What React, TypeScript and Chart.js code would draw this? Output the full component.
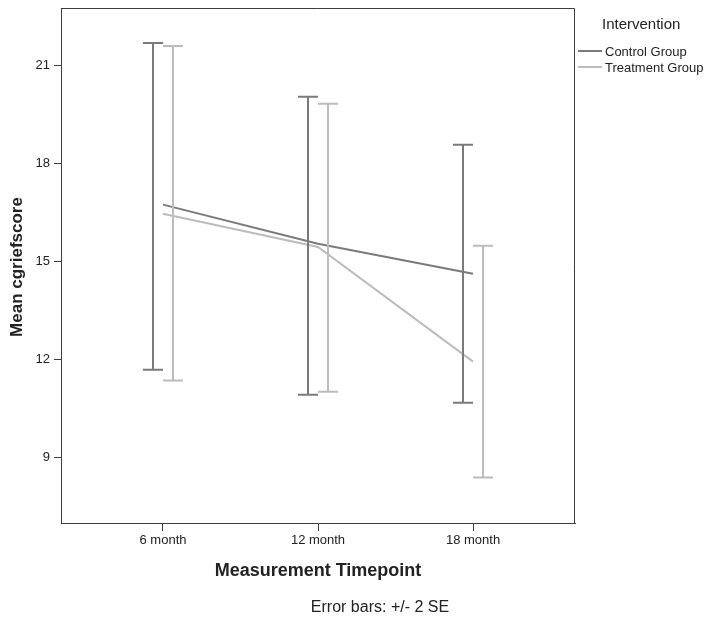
import React, { useEffect, useRef } from "react";
import { Chart, registerables } from "chart.js";

Chart.register(...registerables);

const categories = ["6 month", "12 month", "18 month"];
const seriesNames = ["Control Group", "Treatment Group"];
const controlMean = [16.75, 15.55, 14.63];
const controlLower = [11.69, 10.93, 10.68];
const controlUpper = [21.7, 20.05, 18.58];
const treatmentMean = [16.47, 15.45, 11.94];
const treatmentLower = [11.36, 11.02, 8.39];
const treatmentUpper = [21.61, 19.84, 15.49];
const yTicks = [9, 12, 15, 18, 21];
const legendTitle = "Intervention";
const xTitle = "Measurement Timepoint";
const yTitle = "Mean cgriefscore";
const footnote = "Error bars: +/- 2 SE";

const FONT = "Arial, 'Liberation Sans', sans-serif";
const CONTROL_COLOR = "#7a7a7a";
const TREATMENT_COLOR = "#bcbcbc";
const AXIS_COLOR = "#3c3c3c";
const TEXT_COLOR = "#222222";

export default function App() {
  const ref = useRef<HTMLCanvasElement | null>(null);

  useEffect(() => {
    if (!ref.current) return;

    const errorBars = [
      { lower: controlLower, upper: controlUpper, color: CONTROL_COLOR, offset: -10 },
      { lower: treatmentLower, upper: treatmentUpper, color: TREATMENT_COLOR, offset: 10 },
    ];

    const decorPlugin = {
      id: "decor",
      afterDatasetsDraw(chart: any) {
        const ctx = chart.ctx;
        const xs = chart.scales.x;
        const ys = chart.scales.y;
        ctx.save();
        errorBars.forEach((eb) => {
          ctx.strokeStyle = eb.color;
          ctx.lineWidth = 2;
          eb.lower.forEach((lo: number, i: number) => {
            const hi = eb.upper[i];
            const x = Math.round(xs.getPixelForValue(i + 1) + eb.offset);
            const y1 = ys.getPixelForValue(lo);
            const y2 = ys.getPixelForValue(hi);
            ctx.beginPath();
            ctx.moveTo(x, y1);
            ctx.lineTo(x, y2);
            ctx.moveTo(x - 10, y1);
            ctx.lineTo(x + 10, y1);
            ctx.moveTo(x - 10, y2);
            ctx.lineTo(x + 10, y2);
            ctx.stroke();
          });
        });
        ctx.restore();
      },
      afterDraw(chart: any) {
        const ctx = chart.ctx;
        const a = chart.chartArea;
        ctx.save();
        ctx.strokeStyle = AXIS_COLOR;
        ctx.lineWidth = 1;
        const l = Math.round(a.left);
        const t = Math.round(a.top) + 0.5;
        const r = Math.round(a.right) - 0.5;
        const b = Math.round(a.bottom);
        ctx.beginPath();
        ctx.moveTo(l, t);
        ctx.lineTo(r, t);
        ctx.lineTo(r, b);
        ctx.stroke();

        ctx.fillStyle = TEXT_COLOR;
        ctx.font = `bold 18px ${FONT}`;
        ctx.textAlign = "center";
        ctx.textBaseline = "middle";
        ctx.fillText(xTitle, (a.left + a.right) / 2, 571);
        ctx.save();
        ctx.translate(17, 267);
        ctx.rotate(-Math.PI / 2);
        ctx.font = `bold 17px ${FONT}`;
        ctx.fillText(yTitle, 0, 0);
        ctx.restore();
        ctx.font = `16px ${FONT}`;
        ctx.fillText(footnote, 380, 608);
        ctx.textAlign = "left";
        ctx.font = `15px ${FONT}`;
        ctx.fillText(legendTitle, 602, 25);
        const items = [
          { name: seriesNames[0], color: CONTROL_COLOR, y: 51 },
          { name: seriesNames[1], color: TREATMENT_COLOR, y: 67 },
        ];
        items.forEach((it) => {
          ctx.strokeStyle = it.color;
          ctx.lineWidth = 2;
          ctx.beginPath();
          ctx.moveTo(578, it.y);
          ctx.lineTo(602, it.y);
          ctx.stroke();
          ctx.fillStyle = TEXT_COLOR;
          ctx.font = `13px ${FONT}`;
          ctx.fillText(it.name, 605, it.y + 1);
        });
        ctx.restore();
      },
    };

    const chart = new Chart(ref.current, {
      type: "line",
      data: {
        datasets: [
          {
            label: seriesNames[0],
            data: controlMean.map((v, i) => ({ x: i + 1, y: v })),
            borderColor: CONTROL_COLOR,
            borderWidth: 2,
            pointRadius: 0,
            tension: 0,
          },
          {
            label: seriesNames[1],
            data: treatmentMean.map((v, i) => ({ x: i + 1, y: v })),
            borderColor: TREATMENT_COLOR,
            borderWidth: 2,
            pointRadius: 0,
            tension: 0,
          },
        ],
      },
      options: {
        animation: false,
        responsive: false,
        layout: { padding: { top: 8, right: 139, left: 0, bottom: 0 } },
        plugins: {
          legend: { display: false },
          tooltip: { enabled: false },
        },
        scales: {
          x: {
            type: "linear",
            min: 0.342,
            max: 3.658,
            afterBuildTicks: (scale: any) => {
              scale.ticks = categories.map((_, i) => ({ value: i + 1 }));
            },
            afterFit: (scale: any) => {
              scale.height = 99;
              scale.paddingLeft = 0;
              scale.paddingRight = 0;
            },
            ticks: {
              autoSkip: false,
              maxRotation: 0,
              padding: 2,
              color: TEXT_COLOR,
              font: { family: FONT, size: 13 },
              callback: (v: any) => categories[Math.round(Number(v)) - 1] ?? "",
            },
            grid: { drawOnChartArea: false, drawTicks: true, tickLength: 8, color: AXIS_COLOR },
            border: { display: true, color: AXIS_COLOR },
          },
          y: {
            type: "linear",
            min: 7,
            max: 22.77,
            afterBuildTicks: (scale: any) => {
              scale.ticks = yTicks.map((v) => ({ value: v }));
            },
            afterFit: (scale: any) => {
              scale.width = 61;
              scale.paddingTop = 0;
              scale.paddingBottom = 0;
            },
            ticks: {
              padding: 4,
              color: TEXT_COLOR,
              font: { family: FONT, size: 13 },
            },
            grid: { drawOnChartArea: false, drawTicks: true, tickLength: 7, color: AXIS_COLOR },
            border: { display: true, color: AXIS_COLOR },
          },
        },
      },
      plugins: [decorPlugin],
    } as any);

    return () => chart.destroy();
  }, []);

  return (
    <div style={{ position: "fixed", left: 0, top: 0, width: 714, height: 622, background: "#fff" }}>
      <canvas ref={ref} width={714} height={622} style={{ display: "block" }} />
    </div>
  );
}
